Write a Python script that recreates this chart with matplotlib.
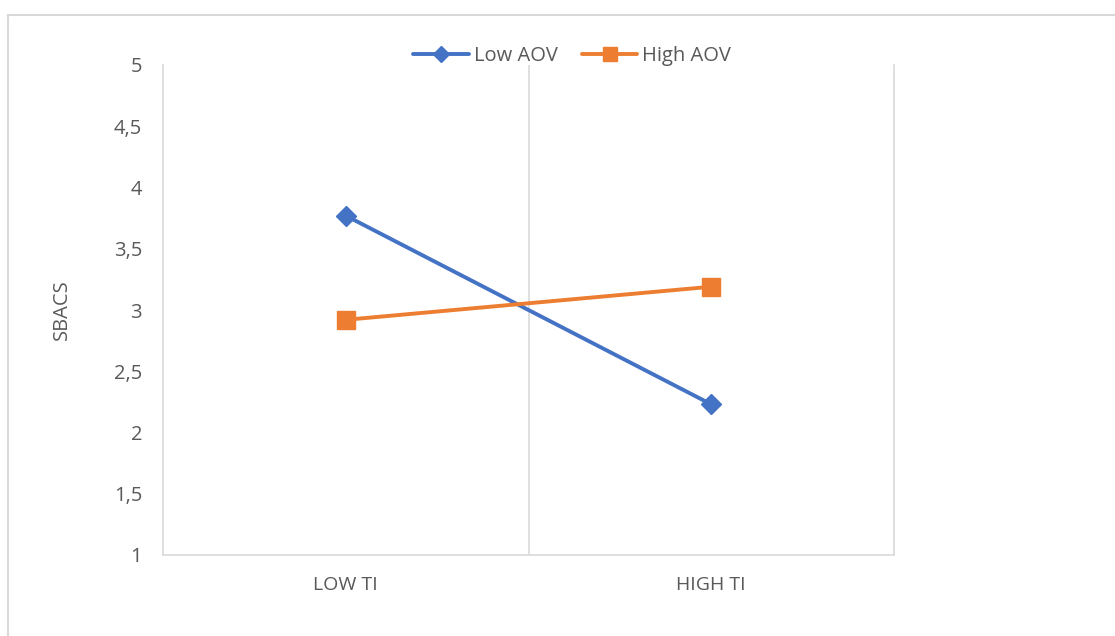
import matplotlib
matplotlib.use("Agg")
import matplotlib.pyplot as plt
from matplotlib.patches import Rectangle
from matplotlib.ticker import FuncFormatter

categories = ["LOW TI", "HIGH TI"]
low_aov = [3.77, 2.23]
high_aov = [2.92, 3.19]
series_names = ["Low AOV", "High AOV"]
y_ticks = [1, 1.5, 2, 2.5, 3, 3.5, 4, 4.5, 5]

plt.rcParams['font.family'] = ['Open Sans', 'DejaVu Sans']
W, H = 1115, 636
fig = plt.figure(figsize=(W / 100, H / 100), dpi=100)
ax = fig.add_axes([163 / W, 1 - 555 / H, (894 - 163) / W, (555 - 65) / H])

grid_c = '#D9D9D9'
text_c = '#595959'
x = list(range(len(categories)))
ax.plot(x, low_aov, color='#4472C4', lw=2.8, marker='D', markersize=10,
        label=series_names[0], solid_capstyle='round', zorder=3)
ax.plot(x, high_aov, color='#ED7D31', lw=2.8, marker='s', markersize=12.5,
        label=series_names[1], solid_capstyle='round', zorder=3)

ax.set_xlim(-0.5, len(categories) - 0.5)
ax.set_ylim(1, 5)
ax.set_yticks(y_ticks)
ax.yaxis.set_major_formatter(FuncFormatter(lambda v, p: (f"{v:g}").replace('.', ',')))
ax.set_xticks(x)
ax.set_xticklabels(categories)
for i in range(1, len(categories)):
    ax.axvline(i - 0.5, color=grid_c, lw=1.2, zorder=1)

for s in ['left', 'right', 'bottom']:
    ax.spines[s].set_color(grid_c)
    ax.spines[s].set_linewidth(1.2)
ax.spines['top'].set_visible(False)
ax.tick_params(axis='both', length=0, colors=text_c)
ax.tick_params(axis='y', pad=15, labelsize=14.5)
ax.tick_params(axis='x', pad=15, labelsize=14)
ax.set_ylabel("SBACS", color=text_c, fontsize=14.5, labelpad=30)

leg = ax.legend(loc='center', bbox_to_anchor=(0.56, 1.018), ncol=2, frameon=False,
                fontsize=14.5, handlelength=2.75, columnspacing=1.2, handletextpad=0.25,
                borderaxespad=0, markerscale=0.8)
for t in leg.get_texts():
    t.set_color(text_c)

fig.patches.append(Rectangle((8 / W, -0.1), 1.2, 1 - 15 / H + 0.1, transform=fig.transFigure,
                             fill=False, edgecolor=grid_c, lw=1.5))

fig.savefig("out.png", dpi=100, facecolor='white')
